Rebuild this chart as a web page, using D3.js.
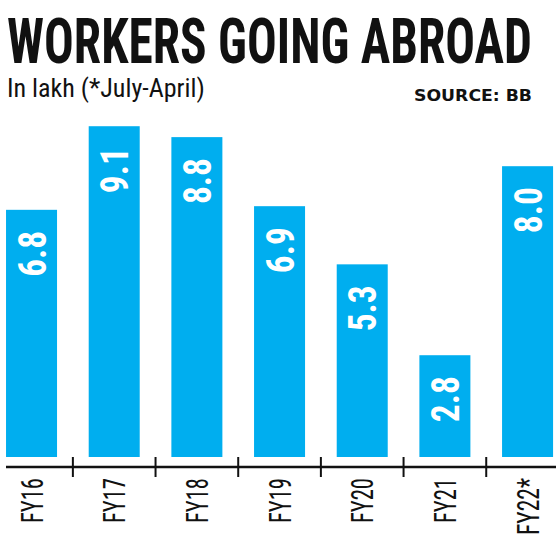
<!DOCTYPE html>
<html>
<head>
<meta charset="utf-8">
<script src="https://cdn.jsdelivr.net/npm/d3@7"></script>
<style>
  html, body { margin: 0; padding: 0; background: #fff; }
  svg { display: block; }
  .cond { font-family: "Liberation Sans Narrow", "Roboto Condensed", "DejaVu Sans Condensed", "Liberation Sans", sans-serif; }
</style>
</head>
<body>
<script>
const categories = ["FY16", "FY17", "FY18", "FY19", "FY20", "FY21", "FY22*"];
const values = [6.8, 9.1, 8.8, 6.9, 5.3, 2.8, 8.0];
const valueLabels = ["6.8", "9.1", "8.8", "6.9", "5.3", "2.8", "8.0"];
const title = "WORKERS GOING ABROAD";
const subtitle = "In lakh (*July-April)";
const source = "SOURCE: BB";

const W = 556, H = 541;
const svg = d3.select("body").append("svg").attr("width", W).attr("height", H);

const baseY = 457, axisY = 467;
const x = d3.scaleBand().domain(categories).range([-9.8, 568.9]).padding(0);
const y = d3.scaleLinear().domain([0, 10]).range([baseY, baseY - 363.5]);
const barW = x.bandwidth() * 0.617;

// squeeze a text horizontally (in its own frame) to a target length using a transform
function fit(sel, target, pre, post) {
  sel.each(function (d, i) {
    const t = typeof target === "function" ? target(d, i) : target;
    const w = this.getComputedTextLength();
    const s = w > 0 ? t / w : 1;
    const p = typeof pre === "function" ? pre(d, i) : pre;
    d3.select(this).attr("transform", `${p} ${post || ""} scale(${s},1)`);
  });
}

// Title
svg.append("text").attr("class", "cond")
  .attr("font-size", 62).attr("font-weight", "bold").attr("fill", "#111")
  .text(title)
  .call(fit, 525, "translate(7,63)");

svg.append("text").attr("class", "cond")
  .attr("font-size", 26).attr("fill", "#111")
  .text(subtitle)
  .call(fit, 198, "translate(7,97)");

svg.append("text")
  .attr("font-family", "'DejaVu Sans', sans-serif")
  .attr("font-size", 16.4).attr("font-weight", "bold").attr("fill", "#111")
  .text(source)
  .call(fit, 118, "translate(414,101)");

// Bars
svg.append("g").selectAll("rect").data(categories).join("rect")
  .attr("x", (d) => x(d) + (x.bandwidth() - barW) / 2)
  .attr("y", (d, i) => y(values[i]))
  .attr("width", barW)
  .attr("height", (d, i) => baseY - y(values[i]))
  .attr("fill", "#00aeef");

// Value labels
svg.append("g").selectAll("text").data(categories).join("text")
  .attr("class", "cond")
  .attr("text-anchor", "end")
  .attr("dy", "0.36em")
  .attr("font-size", 39).attr("font-weight", "bold").attr("fill", "#fff")
  .text((d, i) => valueLabels[i])
  .call(fit, 46, (d, i) => `translate(${x(d) + x.bandwidth() / 2},${y(values[i]) + 21})`, "rotate(-90)");

// Axis
const axis = d3.axisBottom(x).tickSize(0).tickFormat("");
const gAxis = svg.append("g").attr("transform", `translate(0,${axisY})`).call(axis);
gAxis.select(".domain").remove();
gAxis.append("line").attr("x1", 6).attr("x2", W).attr("y1", 0).attr("y2", 0)
  .attr("stroke", "#111").attr("stroke-width", 2.5);
// ticks at band boundaries
gAxis.selectAll(".bound").data(categories.slice(1)).join("line")
  .attr("class", "bound")
  .attr("x1", (d) => x(d)).attr("x2", (d) => x(d))
  .attr("y1", -10).attr("y2", 10)
  .attr("stroke", "#111").attr("stroke-width", 2);

// Category labels
svg.append("g").selectAll("text").data(categories).join("text")
  .attr("class", "cond")
  .attr("text-anchor", "end")
  .attr("dy", "0.36em")
  .attr("font-size", 31).attr("fill", "#111")
  .text((d) => d)
  .call(fit, (d) => d.length === 5 ? 57 : 45, (d) => `translate(${x(d) + x.bandwidth() / 2},478)`, "rotate(-90)");
</script>
</body>
</html>
